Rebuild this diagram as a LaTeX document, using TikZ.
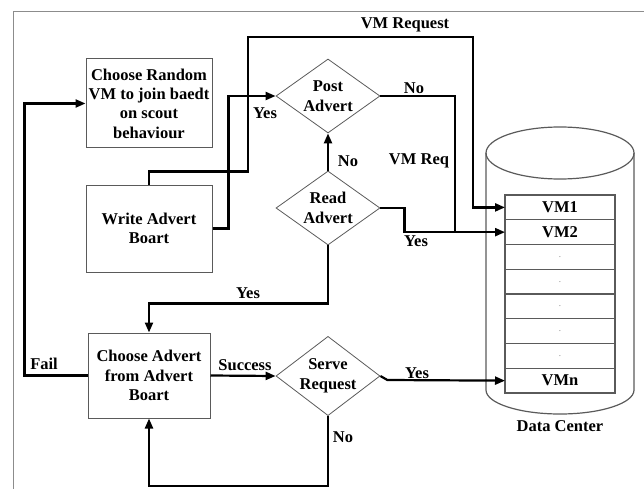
\documentclass[tikz,border=0pt]{standalone}
\usepackage{fontspec}
\setmainfont{Liberation Serif}
\usepackage{tikz}
\usetikzlibrary{shapes.geometric, arrows.meta, positioning, calc}
\definecolor{boxgray}{HTML}{5A5A5A}
\definecolor{framegray}{HTML}{8C8C8C}
\tikzstyle{procbox} = [draw=boxgray, rectangle, line width=1pt, minimum width=126pt, minimum height=88pt, inner sep=2pt, align=center, font=\bfseries\fontsize{16.5}{19.3}\selectfont]
\tikzstyle{decision} = [draw=boxgray, diamond, line width=0.8pt, minimum width=104pt, minimum height=74pt, inner sep=-3pt, align=center, font=\bfseries\fontsize{16.5}{20}\selectfont]
\tikzstyle{vmslot} = [draw=boxgray, rectangle, line width=1.2pt, minimum width=110pt, minimum height=24.75pt, inner sep=0pt, outer sep=0pt, font=\bfseries\fontsize{16.5}{19}\selectfont]
\tikzstyle{lbl} = [inner sep=0pt, font=\bfseries\fontsize{16.5}{19}\selectfont]
\tikzstyle{arrw} = [line width=2.2pt, -{Stealth[length=10pt, width=8pt, inset=0pt]}]
\tikzstyle{wire} = [line width=2.2pt]

\begin{document}
\begin{tikzpicture}[x=1pt, y=-1pt]
    \useasboundingbox (0,0) rectangle (644,489);
    \draw [framegray, line width=1pt] (13,489) -- (13,12) -- (644,12);

    % flow nodes
    \node (crand) [procbox, minimum height=89pt] at (149,103.5) {Choose Random\\VM to join baedt\\on scout\\behaviour};
    \node (wadv) [procbox, minimum height=87pt] at (149,228.5) {Write Advert\\Boart};
    \node (cadv) [procbox, minimum width=122pt, minimum height=85pt] at (149,375.5) {Choose Advert\\from Advert\\Boart};
    \node (padv) [decision] at (328,96) {Post\\Advert};
    \node (radv) [decision] at (328,208) {Read\\Advert};
    \node (sreq) [decision] at (328,376) {Serve\\Request};

    % data center
    \draw [boxgray, line width=1.2pt] (560,153) ellipse [x radius=74pt, y radius=26pt];
    \draw [boxgray, line width=1.2pt] (486,153) -- (486,390) arc [start angle=180, end angle=360, x radius=74pt, y radius=24pt] -- (634,153);
    \node (vm1) [vmslot] at (560,207.4) {VM1};
    \node (vm2) [vmslot, below=0pt of vm1] {VM2};
    \node (vm3) [vmslot, below=0pt of vm2] {\color{gray}\normalfont\small .};
    \node (vm4) [vmslot, below=0pt of vm3] {\color{gray}\normalfont\small .};
    \node (vm5) [vmslot, below=0pt of vm4] {\color{gray}\normalfont\small .};
    \node (vm6) [vmslot, below=0pt of vm5] {\color{gray}\normalfont\small .};
    \node (vm7) [vmslot, below=0pt of vm6] {\color{gray}\normalfont\small .};
    \node (vmn) [vmslot, below=0pt of vm7] {VMn};
    \node (dc) [lbl] at (560,426) {Data Center};

    % connectors
    \draw [arrw] (cadv.west) -- ++(-63,0) |- (crand.west);
    \draw [arrw] (wadv.north) -- ++(0,-13) -| (248,37) -| ($(vm1.west)+(-32,0)$) -- (vm1.west);
    \draw [arrw] (wadv.east) -- ++(16,0) |- (padv.west);
    \draw [wire] (padv.east) -| ($(vm2.west)+(-50,0)$);
    \draw [arrw] (radv.east) -- ++(24,0) |- (vm2.west);
    \draw [arrw] (radv.north) -- (padv.south);
    \draw [arrw] (radv.south) -- ++(0,58) -| (cadv.north);
    \draw [arrw] (cadv.east) -- (sreq.west);
    \draw [arrw] (sreq.east) -- ++(7,4) -- (vmn.west);
    \draw [arrw] (sreq.south) -- ++(0,70) -| (cadv.south);

    % labels
    \node (lfail) [lbl] at (44,364) {Fail};
    \node (lvmr) [lbl] at (405,25) {VM Request};
    \node (lyes1) [lbl] at (265,113) {Yes};
    \node (lno1) [lbl] at (414,88) {No};
    \node (lno2) [lbl] at (348,161) {No};
    \node (lreq) [lbl] at (419,161) {VM Req};
    \node (lyes2) [lbl] at (416,241) {Yes};
    \node (lyes3) [lbl] at (248,293) {Yes};
    \node (lsucc) [lbl] at (245,365) {Success};
    \node (lyes4) [lbl] at (417,373) {Yes};
    \node (lno3) [lbl] at (343,437) {No};
\end{tikzpicture}
\end{document}
